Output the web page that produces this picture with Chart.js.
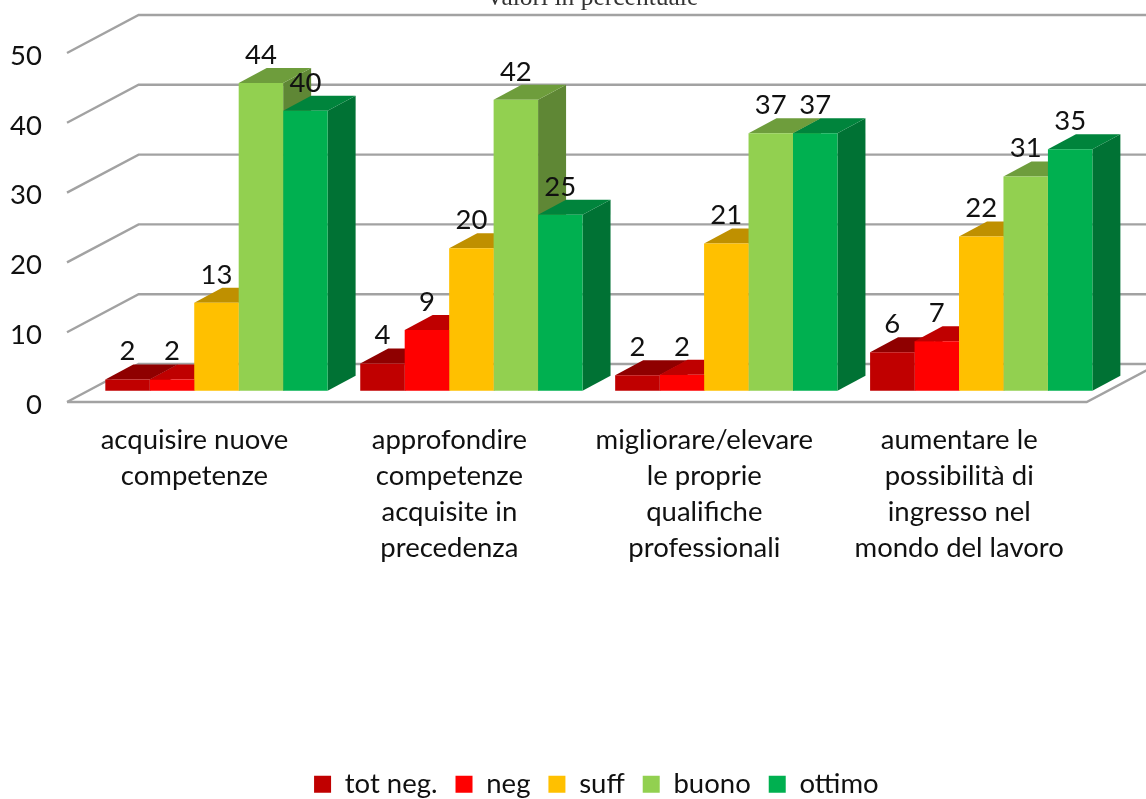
<!DOCTYPE html>
<html>
<head>
<meta charset="utf-8">
<style>
  body { margin: 0; background: #fff; }
  canvas { display: block; }
</style>
<script src="https://cdn.jsdelivr.net/npm/chart.js@4/dist/chart.umd.min.js"></script>
</head>
<body>
<canvas id="myChart" width="1146" height="799"></canvas>
<script>
const titleText = 'Valori in percentuale'
const categories = [
  ['acquisire nuove', 'competenze'],
  ['approfondire', 'competenze', 'acquisite in', 'precedenza'],
  ['migliorare/elevare', 'le proprie', 'qualifiche', 'professionali'],
  ['aumentare le', 'possibilità di', 'ingresso nel', 'mondo del lavoro']
]
const yTicks = [0, 10, 20, 30, 40, 50]

const totNeg = [1.6, 3.9, 2.2, 5.5]
const neg = [1.6, 8.7, 2.3, 7.1]
const suff = [12.6, 20.4, 21.1, 22.1]
const buono = [44.1, 41.7, 36.9, 30.7]
const ottimo = [40.1, 25.2, 36.9, 34.6]

const seriesNames = ['tot neg.', 'neg', 'suff', 'buono', 'ottimo']
const seriesValues = [totNeg, neg, suff, buono, ottimo]
const frontColors = ['#C00000', '#FF0000', '#FFC000', '#92D050', '#00B050']
const topColors = ['#8F0000', '#BF0000', '#BF9000', '#6E9D3C', '#00843C']
const sideColors = ['#7A0000', '#A60000', '#A67D00', '#5F8735', '#007234']

const fontName = 'Lato, sans-serif'
const fontSize = 27.5
const gridColor = '#a2a2a2'

// floor depth of the fake 3d box, and how far the bars sit inside it
const wallX = 71.6, wallY = -38
const barShiftX = 22, barShiftY = -11.3
const barDepthX = 28, barDepthY = -15

function poly(ctx, color, pts) {
  ctx.fillStyle = color
  ctx.beginPath()
  ctx.moveTo(pts[0][0], pts[0][1])
  pts.slice(1).forEach((p) => ctx.lineTo(p[0], p[1]))
  ctx.closePath()
  ctx.fill()
}

const box3d = {
  id: 'box3d',
  afterLayout(chart) {
    // legend sits off centre in the original
    const legend = chart.legend
    legend.left += 53
    legend.right += 53
    legend.top += 9
    legend.bottom += 9
  },
  beforeDatasetsDraw(chart) {
    const ctx = chart.ctx
    const x = chart.scales.x
    const y = chart.scales.y

    ctx.save()
    ctx.strokeStyle = gridColor
    ctx.lineWidth = 2.4
    y.ticks.forEach((t) => {
      const py = y.getPixelForValue(t.value)
      ctx.beginPath()
      ctx.moveTo(x.left, py)
      ctx.lineTo(x.left + wallX, py + wallY)
      ctx.lineTo(x.right + wallX, py + wallY)
      ctx.stroke()
    })
    const py0 = y.getPixelForValue(0)
    ctx.beginPath()
    ctx.moveTo(x.left, py0)
    ctx.lineTo(x.right, py0)
    ctx.lineTo(x.right + wallX, py0 + wallY)
    ctx.stroke()
    ctx.restore()

    // left to right, the fronts from the library then cover what they should
    ctx.save()
    ctx.translate(barShiftX, barShiftY)
    categories.forEach((c, i) => {
      seriesValues.forEach((s, d) => {
        const bar = chart.getDatasetMeta(d).data[i]
        const l = bar.x - bar.width / 2
        const r = bar.x + bar.width / 2
        poly(ctx, sideColors[d], [[r, bar.y], [r + barDepthX, bar.y + barDepthY], [r + barDepthX, bar.base + barDepthY], [r, bar.base]])
        poly(ctx, topColors[d], [[l, bar.y], [l + barDepthX, bar.y + barDepthY], [r + barDepthX, bar.y + barDepthY], [r, bar.y]])
      })
    })
    ctx.restore()

    ctx.save()
    ctx.translate(barShiftX, barShiftY)
  },
  afterDatasetsDraw(chart) {
    const ctx = chart.ctx
    ctx.restore()

    ctx.save()
    ctx.fillStyle = '#111'
    ctx.font = fontSize + 'px ' + fontName
    ctx.textAlign = 'center'
    ctx.textBaseline = 'middle'
    seriesValues.forEach((s, d) => {
      chart.getDatasetMeta(d).data.forEach((bar, i) => {
        ctx.fillText(Math.round(s[i]), bar.x + barShiftX, bar.y + barShiftY - 28)
      })
    })
    ctx.fillStyle = '#333'
    ctx.font = '25.5px "Liberation Serif", serif'
    ctx.textBaseline = 'alphabetic'
    ctx.fillText(titleText, 592, 5)
    ctx.restore()
  }
}

const ctx = document.getElementById('myChart').getContext('2d')
const config = {
  type: 'bar',
  data: {
    labels: categories,
    datasets: seriesNames.map((name, d) => ({
      label: name,
      data: seriesValues[d],
      backgroundColor: frontColors[d],
      categoryPercentage: 0.872,
      barPercentage: 1,
      clip: false
    }))
  },
  options: {
    responsive: false,
    animation: false,
    layout: { padding: { top: 53, right: 59.3 } },
    plugins: {
      tooltip: { enabled: false },
      legend: {
        position: 'bottom',
        labels: {
          color: '#111',
          font: { family: fontName, size: fontSize },
          boxWidth: 17,
          boxHeight: 17,
          padding: 18
        }
      }
    },
    scales: {
      x: {
        grid: { display: false },
        border: { display: false },
        afterFit(scale) {
          scale.height = 799 - 402 - (scale.chart.legend ? scale.chart.legend.height : 0)
        },
        ticks: {
          color: '#111',
          font: { family: fontName, size: fontSize, lineHeight: '36px' },
          padding: 12,
          maxRotation: 0,
          autoSkip: false
        }
      },
      y: {
        min: 0,
        max: 50,
        grid: { display: false },
        border: { display: false },
        afterFit(scale) {
          scale.width = 67
        },
        afterBuildTicks(scale) {
          scale.ticks = yTicks.map((v) => ({ value: v }))
        },
        ticks: {
          color: '#111',
          font: { family: fontName, size: fontSize, lineHeight: '6px' },
          padding: 17,
          // blank first line nudges the number down to sit on its gridline
          callback: (v) => ['', v]
        }
      }
    }
  },
  plugins: [box3d]
}
const myChart = new Chart(ctx, config)
</script>
</body>
</html>
